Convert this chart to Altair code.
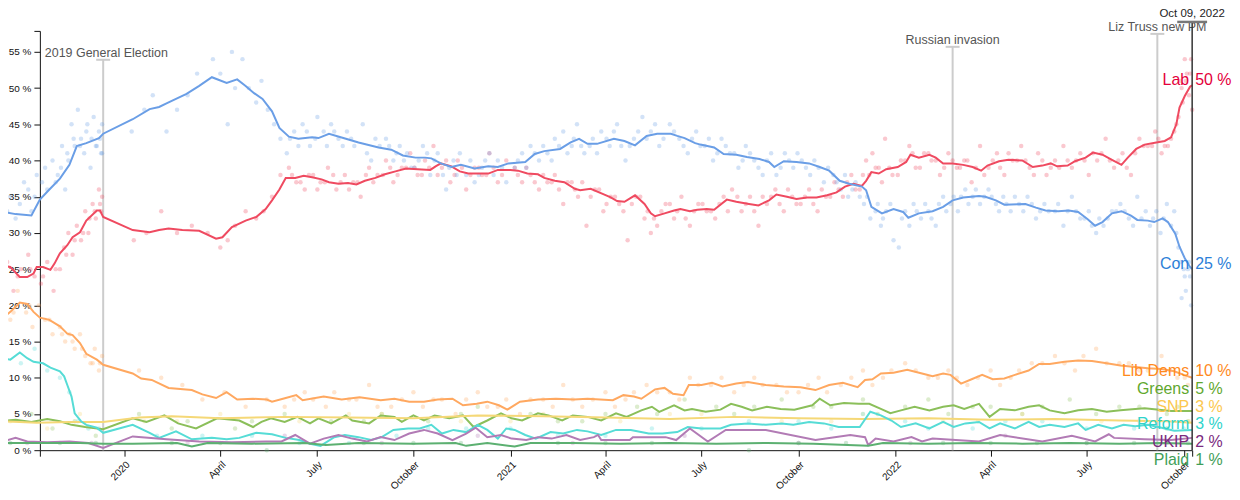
import altair as alt
import pandas as pd

# ---------------- data ----------------
PARTIES = ["Lab", "Con", "Lib Dems", "Greens", "SNP", "Reform", "UKIP", "Plaid"]
LATEST = [50, 25, 10, 5, 3, 3, 2, 1]

CON_LINE = [
    ("2019-09-05", 33.0), ("2019-09-20", 32.6), ("2019-10-05", 32.4), ("2019-10-13", 34.6),
    ("2019-10-22", 36.0), ("2019-11-01", 37.5), ("2019-11-10", 39.4), ("2019-11-17", 42.0),
    ("2019-11-26", 42.4), ("2019-12-08", 43.1), ("2019-12-12", 43.7),
    ("2020-01-09", 45.7), ("2020-01-25", 47.1), ("2020-02-03", 47.4), ("2020-02-10", 47.9),
    ("2020-02-19", 48.5), ("2020-02-29", 49.2), ("2020-03-12", 50.3), ("2020-03-24", 51.5),
    ("2020-04-07", 50.7), ("2020-04-17", 51.2), ("2020-04-25", 50.3), ("2020-05-03", 49.3),
    ("2020-05-11", 48.5), ("2020-05-20", 46.8), ("2020-05-27", 44.5), ("2020-06-05", 43.3),
    ("2020-06-14", 43.0), ("2020-06-27", 43.2), ("2020-07-03", 43.1), ("2020-07-13", 43.7),
    ("2020-07-29", 43.0), ("2020-08-10", 42.5), ("2020-08-29", 41.8), ("2020-09-10", 41.5),
    ("2020-09-21", 40.7), ("2020-10-03", 40.4), ("2020-10-12", 40.4), ("2020-10-18", 40.3),
    ("2020-10-27", 39.6), ("2020-11-06", 39.1), ("2020-11-15", 39.4), ("2020-11-28", 38.9),
    ("2020-12-11", 39.2), ("2020-12-20", 39.1), ("2020-12-30", 39.6),
    ("2021-01-15", 39.8), ("2021-01-24", 40.9), ("2021-02-02", 41.3), ("2021-02-17", 41.6),
    ("2021-02-27", 42.5), ("2021-03-07", 43.0), ("2021-03-15", 42.3), ("2021-03-24", 42.3),
    ("2021-04-09", 43.0), ("2021-04-19", 42.7), ("2021-04-29", 42.1), ("2021-05-10", 43.4),
    ("2021-05-20", 43.7), ("2021-06-02", 43.7), ("2021-06-08", 43.4), ("2021-06-15", 43.1),
    ("2021-06-25", 42.4), ("2021-06-30", 42.2), ("2021-07-13", 41.8), ("2021-07-22", 40.9),
    ("2021-08-03", 40.8), ("2021-08-13", 40.5), ("2021-08-25", 40.2), ("2021-09-03", 39.8),
    ("2021-09-08", 39.1), ("2021-09-17", 39.9), ("2021-09-29", 39.8), ("2021-10-11", 39.6),
    ("2021-10-21", 39.1), ("2021-10-30", 38.6), ("2021-11-09", 37.2), ("2021-11-18", 36.8),
    ("2021-11-30", 36.4), ("2021-12-04", 35.9), ("2021-12-09", 33.6), ("2021-12-19", 32.7),
    ("2021-12-30", 33.3),
    ("2022-01-08", 32.9), ("2022-01-13", 32.1), ("2022-01-23", 32.7), ("2022-02-05", 33.0),
    ("2022-02-15", 33.6), ("2022-02-24", 34.5), ("2022-03-06", 34.9), ("2022-03-21", 35.1),
    ("2022-03-27", 35.0), ("2022-04-06", 34.5), ("2022-04-14", 33.9), ("2022-05-04", 34.0),
    ("2022-05-14", 33.5), ("2022-05-23", 33.1), ("2022-06-04", 33.0), ("2022-06-14", 33.1),
    ("2022-06-23", 32.9), ("2022-07-02", 31.9), ("2022-07-09", 31.0), ("2022-07-16", 31.5),
    ("2022-07-25", 32.7), ("2022-08-03", 33.0), ("2022-08-12", 32.4), ("2022-08-18", 31.8),
    ("2022-08-28", 31.7), ("2022-09-03", 31.5), ("2022-09-11", 32.0), ("2022-09-16", 31.5),
    ("2022-09-23", 29.9), ("2022-09-27", 28.1), ("2022-10-02", 26.5), ("2022-10-07", 25.3),
    ("2022-10-09", 25.0),
]

LAB_LINE = [
    ("2019-09-06", 25.5), ("2019-09-15", 25.3), ("2019-09-24", 23.9), ("2019-10-01", 23.9),
    ("2019-10-07", 24.4), ("2019-10-10", 25.3), ("2019-10-16", 25.3), ("2019-10-23", 24.9),
    ("2019-10-27", 25.8), ("2019-11-01", 27.2), ("2019-11-08", 28.3), ("2019-11-13", 29.4),
    ("2019-11-20", 30.1), ("2019-11-26", 31.7), ("2019-12-06", 33.1), ("2019-12-09", 33.1),
    ("2019-12-12", 32.2),
    ("2020-01-09", 30.4), ("2020-01-25", 30.1), ("2020-02-03", 30.4), ("2020-02-12", 30.6),
    ("2020-02-25", 30.4), ("2020-03-12", 30.3), ("2020-03-28", 29.2), ("2020-04-03", 29.4),
    ("2020-04-12", 30.8), ("2020-04-25", 31.7), ("2020-05-05", 32.2), ("2020-05-14", 33.3),
    ("2020-05-20", 34.5), ("2020-05-27", 36.0), ("2020-06-02", 37.6), ("2020-06-11", 37.6),
    ("2020-06-19", 37.9), ("2020-06-27", 37.7), ("2020-07-06", 37.4), ("2020-07-13", 37.0),
    ("2020-07-22", 36.8), ("2020-07-31", 36.9), ("2020-08-08", 36.7), ("2020-08-16", 37.2),
    ("2020-08-26", 37.6), ("2020-09-04", 38.1), ("2020-09-14", 38.5), ("2020-09-24", 38.9),
    ("2020-10-05", 38.8), ("2020-10-17", 38.7), ("2020-10-22", 39.2), ("2020-10-27", 39.6),
    ("2020-11-06", 39.2), ("2020-11-14", 38.5), ("2020-11-22", 38.2), ("2020-12-01", 38.2),
    ("2020-12-11", 38.2), ("2020-12-20", 38.7),
    ("2021-01-01", 38.7), ("2021-01-08", 38.6), ("2021-01-17", 38.2), ("2021-01-27", 38.1),
    ("2021-02-02", 37.6), ("2021-02-12", 37.2), ("2021-02-21", 37.0), ("2021-03-03", 36.1),
    ("2021-03-08", 35.9), ("2021-03-18", 36.1), ("2021-03-31", 35.3), ("2021-04-06", 34.9),
    ("2021-04-12", 34.4), ("2021-04-19", 34.3), ("2021-04-29", 35.2), ("2021-05-08", 34.0),
    ("2021-05-14", 32.7), ("2021-05-18", 32.3), ("2021-05-27", 32.7), ("2021-06-05", 33.1),
    ("2021-06-11", 33.3), ("2021-06-20", 33.0), ("2021-06-27", 33.2), ("2021-07-06", 33.3),
    ("2021-07-13", 33.2), ("2021-07-18", 33.8), ("2021-07-25", 34.6), ("2021-08-03", 34.3),
    ("2021-08-15", 34.0), ("2021-08-24", 33.8), ("2021-09-03", 34.5), ("2021-09-10", 35.3),
    ("2021-09-20", 35.0), ("2021-09-29", 34.7), ("2021-10-09", 34.9), ("2021-10-18", 34.9),
    ("2021-10-28", 35.2), ("2021-11-06", 35.6), ("2021-11-14", 36.4), ("2021-11-22", 36.8),
    ("2021-11-30", 36.5), ("2021-12-04", 37.2), ("2021-12-09", 38.4), ("2021-12-16", 38.2),
    ("2021-12-23", 38.8),
    ("2022-01-03", 39.1), ("2022-01-11", 39.8), ("2022-01-15", 40.8), ("2022-01-23", 40.4),
    ("2022-02-02", 40.8), ("2022-02-08", 40.4), ("2022-02-15", 39.6), ("2022-02-24", 39.6),
    ("2022-03-06", 39.4), ("2022-03-15", 39.1), ("2022-03-23", 38.6), ("2022-03-29", 39.3),
    ("2022-04-09", 39.9), ("2022-04-18", 40.1), ("2022-05-01", 40.0), ("2022-05-11", 39.1),
    ("2022-05-20", 39.3), ("2022-05-28", 39.6), ("2022-06-03", 39.2), ("2022-06-13", 39.3),
    ("2022-06-20", 39.9), ("2022-06-30", 40.4), ("2022-07-07", 41.1), ("2022-07-16", 40.8),
    ("2022-07-25", 40.1), ("2022-08-03", 39.4), ("2022-08-09", 40.4), ("2022-08-17", 41.6),
    ("2022-08-25", 42.2), ("2022-09-05", 42.5), ("2022-09-13", 42.7), ("2022-09-19", 43.2),
    ("2022-09-24", 45.0), ("2022-09-27", 47.3), ("2022-10-02", 48.9), ("2022-10-07", 50.2),
    ("2022-10-09", 50.4),
]

LD_LINE = [
    ("2019-09-05", 17.9), ("2019-09-15", 19.1), ("2019-09-24", 20.4), ("2019-10-01", 20.2),
    ("2019-10-07", 19.1), ("2019-10-13", 18.3), ("2019-10-22", 18.0), ("2019-11-01", 17.1),
    ("2019-11-08", 16.1), ("2019-11-13", 15.9), ("2019-11-20", 14.8), ("2019-11-26", 13.3),
    ("2019-12-06", 12.5), ("2019-12-12", 11.8),
    ("2020-01-09", 10.6), ("2020-01-17", 9.9), ("2020-01-27", 9.7), ("2020-02-12", 8.6),
    ("2020-03-05", 8.3), ("2020-03-15", 7.7), ("2020-03-28", 7.2), ("2020-04-07", 8.0),
    ("2020-04-17", 7.0), ("2020-05-02", 7.1), ("2020-05-15", 7.0), ("2020-05-20", 6.7),
    ("2020-06-02", 7.2), ("2020-06-12", 7.6), ("2020-06-18", 6.9), ("2020-07-08", 7.4),
    ("2020-07-25", 7.0), ("2020-08-11", 7.3), ("2020-08-31", 6.9), ("2020-09-13", 7.1),
    ("2020-09-27", 6.7), ("2020-10-11", 6.7), ("2020-10-24", 7.0), ("2020-11-07", 7.1),
    ("2020-11-17", 6.2), ("2020-11-30", 6.4), ("2020-12-10", 6.7), ("2020-12-21", 6.2),
    ("2020-12-29", 5.6),
    ("2021-01-10", 6.7), ("2021-01-27", 7.0), ("2021-02-13", 7.1), ("2021-03-02", 7.0),
    ("2021-03-15", 7.1), ("2021-04-08", 6.9), ("2021-04-18", 7.6), ("2021-04-28", 7.4),
    ("2021-05-05", 7.1), ("2021-05-18", 8.4), ("2021-05-27", 8.6), ("2021-06-04", 7.8),
    ("2021-06-14", 7.6), ("2021-06-19", 9.0), ("2021-07-01", 9.0), ("2021-07-11", 9.3),
    ("2021-07-21", 8.8), ("2021-08-03", 9.2), ("2021-08-14", 9.4), ("2021-08-31", 9.0),
    ("2021-09-17", 8.8), ("2021-10-03", 8.7), ("2021-10-17", 8.3), ("2021-10-30", 9.0),
    ("2021-11-12", 9.3), ("2021-11-26", 8.7), ("2021-12-03", 9.7), ("2021-12-10", 9.8),
    ("2021-12-18", 10.6), ("2021-12-30", 10.7),
    ("2022-01-12", 11.1), ("2022-01-26", 10.6), ("2022-02-05", 10.2), ("2022-02-15", 10.6),
    ("2022-02-22", 10.4), ("2022-03-04", 9.2), ("2022-03-14", 9.8), ("2022-03-24", 10.4),
    ("2022-04-03", 9.8), ("2022-04-14", 9.9), ("2022-04-24", 10.4), ("2022-05-07", 11.0),
    ("2022-05-17", 11.9), ("2022-05-27", 11.9), ("2022-06-10", 12.2), ("2022-06-23", 12.4),
    ("2022-07-06", 12.3), ("2022-07-20", 12.0), ("2022-08-02", 11.7), ("2022-08-16", 11.5),
    ("2022-08-28", 11.3), ("2022-09-10", 11.2), ("2022-09-22", 10.9), ("2022-10-01", 10.4),
    ("2022-10-09", 10.0),
]

GREENS_LINE = [
    ("2019-09-05", 4.0), ("2019-09-20", 4.2), ("2019-10-05", 3.9), ("2019-10-20", 4.3),
    ("2019-11-01", 4.0), ("2019-11-12", 3.5), ("2019-11-25", 3.2), ("2019-12-12", 2.9),
    ("2020-01-09", 4.4), ("2020-01-22", 3.9), ("2020-02-08", 4.8), ("2020-02-21", 3.7),
    ("2020-03-09", 3.0), ("2020-03-29", 4.4), ("2020-04-19", 4.1), ("2020-05-02", 3.2),
    ("2020-05-10", 3.9), ("2020-05-19", 4.4), ("2020-06-01", 3.9), ("2020-06-13", 4.6),
    ("2020-06-25", 3.7), ("2020-07-03", 4.4), ("2020-07-15", 3.7), ("2020-07-29", 4.8),
    ("2020-08-04", 4.1), ("2020-08-20", 3.7), ("2020-08-31", 4.8), ("2020-09-13", 4.6),
    ("2020-09-20", 3.9), ("2020-10-01", 4.8), ("2020-10-11", 4.1), ("2020-10-21", 4.8),
    ("2020-11-04", 4.4), ("2020-11-17", 4.8), ("2020-11-27", 3.2), ("2020-12-10", 4.1),
    ("2020-12-23", 5.1),
    ("2021-01-02", 4.4), ("2021-01-12", 4.1), ("2021-01-27", 5.1), ("2021-02-06", 4.8),
    ("2021-02-19", 4.1), ("2021-03-01", 4.8), ("2021-03-15", 4.6), ("2021-03-28", 4.1),
    ("2021-04-11", 5.1), ("2021-04-21", 4.6), ("2021-05-05", 5.5), ("2021-05-15", 6.0),
    ("2021-05-22", 5.3), ("2021-06-05", 6.2), ("2021-06-15", 5.5), ("2021-06-22", 5.7),
    ("2021-07-05", 5.3), ("2021-07-19", 5.6), ("2021-07-29", 6.4), ("2021-08-08", 6.0),
    ("2021-08-18", 5.5), ("2021-09-01", 6.0), ("2021-09-14", 5.7), ("2021-09-27", 5.6),
    ("2021-10-14", 6.2), ("2021-10-21", 7.1), ("2021-10-31", 6.2), ("2021-11-13", 6.5),
    ("2021-11-27", 6.4), ("2021-12-07", 6.4), ("2021-12-18", 5.7), ("2021-12-27", 5.1),
    ("2022-01-06", 5.5), ("2022-01-19", 6.0), ("2022-02-02", 5.5), ("2022-02-15", 6.0),
    ("2022-02-25", 6.2), ("2022-03-07", 5.7), ("2022-03-21", 6.4), ("2022-03-31", 4.6),
    ("2022-04-10", 5.7), ("2022-04-24", 5.5), ("2022-05-07", 6.0), ("2022-05-17", 6.2),
    ("2022-05-27", 5.5), ("2022-06-10", 5.1), ("2022-06-23", 5.5), ("2022-07-06", 5.7),
    ("2022-07-20", 5.3), ("2022-08-02", 5.5), ("2022-08-16", 5.7), ("2022-08-25", 5.8),
    ("2022-09-19", 5.4), ("2022-10-09", 5.4),
]

SNP_LINE = [
    ("2019-09-05", 4.0), ("2019-10-10", 3.8), ("2019-11-10", 3.9), ("2019-12-12", 3.9),
    ("2020-01-15", 4.5), ("2020-02-15", 4.7), ("2020-04-01", 4.4), ("2020-06-01", 4.6),
    ("2020-08-01", 4.5), ("2020-10-01", 4.4), ("2020-12-01", 4.8), ("2021-02-01", 4.7),
    ("2021-04-01", 4.5), ("2021-06-01", 4.3), ("2021-08-01", 4.6), ("2021-10-01", 4.4),
    ("2021-12-01", 4.3), ("2022-02-01", 4.4), ("2022-04-01", 4.2), ("2022-06-01", 4.3),
    ("2022-08-01", 4.1), ("2022-09-15", 4.0), ("2022-10-09", 3.8),
]

REFORM_LINE = [
    ("2019-09-06", 12.7), ("2019-09-15", 12.5), ("2019-09-24", 13.5), ("2019-10-01", 12.7),
    ("2019-10-07", 12.2), ("2019-10-16", 12.0), ("2019-10-23", 11.4), ("2019-11-01", 10.9),
    ("2019-11-05", 10.2), ("2019-11-08", 9.0), ("2019-11-12", 7.4), ("2019-11-15", 5.1),
    ("2019-11-21", 4.0), ("2019-11-26", 3.5), ("2019-12-06", 3.1), ("2019-12-12", 2.4),
    ("2020-01-09", 3.5), ("2020-01-25", 2.4), ("2020-02-03", 1.7), ("2020-02-19", 2.6),
    ("2020-03-05", 1.5), ("2020-03-24", 1.7), ("2020-04-07", 1.5), ("2020-04-19", 1.7),
    ("2020-05-05", 2.4), ("2020-05-20", 2.2), ("2020-06-02", 1.7), ("2020-06-15", 1.4),
    ("2020-06-25", 0.9), ("2020-07-05", 0.6), ("2020-07-18", 1.8), ("2020-07-28", 2.1),
    ("2020-08-10", 1.8), ("2020-08-22", 1.4), ("2020-09-01", 1.8), ("2020-09-12", 2.8),
    ("2020-09-26", 3.0), ("2020-10-07", 3.0), ("2020-10-18", 3.5), ("2020-10-28", 2.3),
    ("2020-11-08", 2.8), ("2020-11-20", 2.5), ("2020-12-01", 3.5), ("2020-12-10", 2.8),
    ("2020-12-20", 1.6), ("2020-12-28", 3.0),
    ("2021-01-05", 2.8), ("2021-01-15", 2.1), ("2021-01-25", 1.6), ("2021-02-08", 2.5),
    ("2021-02-20", 2.3), ("2021-03-05", 2.8), ("2021-03-15", 2.6), ("2021-03-28", 2.1),
    ("2021-04-11", 2.8), ("2021-04-25", 2.8), ("2021-05-12", 2.3), ("2021-05-25", 2.3),
    ("2021-06-08", 2.5), ("2021-06-18", 3.2), ("2021-07-01", 3.0), ("2021-07-19", 3.0),
    ("2021-07-29", 3.5), ("2021-08-14", 3.7), ("2021-08-31", 3.5), ("2021-09-15", 3.7),
    ("2021-09-26", 3.5), ("2021-10-11", 3.9), ("2021-10-25", 3.7), ("2021-11-08", 3.2),
    ("2021-11-28", 3.2), ("2021-12-08", 5.3), ("2021-12-18", 4.8), ("2021-12-28", 4.1),
    ("2022-01-06", 3.2), ("2022-01-20", 3.7), ("2022-02-02", 3.0), ("2022-02-15", 3.9),
    ("2022-02-25", 3.2), ("2022-03-08", 3.7), ("2022-03-21", 3.9), ("2022-03-31", 3.0),
    ("2022-04-10", 3.7), ("2022-04-24", 3.0), ("2022-05-07", 3.9), ("2022-05-17", 3.2),
    ("2022-05-27", 3.5), ("2022-06-10", 3.2), ("2022-06-23", 3.7), ("2022-06-30", 2.8),
    ("2022-07-12", 3.5), ("2022-07-25", 3.0), ("2022-08-05", 3.5), ("2022-08-16", 3.3),
    ("2022-08-28", 3.5), ("2022-09-10", 3.1), ("2022-09-22", 2.7), ("2022-10-09", 2.8),
]

UKIP_LINE = [
    ("2019-09-05", 1.1), ("2019-09-20", 1.7), ("2019-10-01", 1.2), ("2019-10-20", 1.1),
    ("2019-11-10", 1.2), ("2019-11-28", 1.0), ("2019-12-12", 0.3),
    ("2020-01-09", 1.9), ("2020-02-10", 1.5), ("2020-03-12", 1.2), ("2020-04-12", 1.1),
    ("2020-05-14", 1.2), ("2020-05-29", 1.2), ("2020-06-11", 2.1), ("2020-06-25", 0.9),
    ("2020-07-08", 1.6), ("2020-07-22", 2.1), ("2020-08-04", 1.6), ("2020-08-18", 1.2),
    ("2020-08-31", 1.8), ("2020-09-13", 1.4), ("2020-09-27", 2.3), ("2020-10-11", 2.8),
    ("2020-10-24", 2.3), ("2020-11-07", 1.4), ("2020-11-20", 2.3), ("2020-11-29", 3.1),
    ("2020-12-10", 1.8), ("2020-12-23", 2.1),
    ("2021-01-02", 1.6), ("2021-01-16", 1.4), ("2021-01-27", 1.8), ("2021-02-09", 1.6),
    ("2021-02-23", 2.1), ("2021-03-08", 1.4), ("2021-03-21", 1.8), ("2021-03-25", 2.1),
    ("2021-03-28", 1.4), ("2021-04-24", 1.4), ("2021-04-27", 1.8), ("2021-05-28", 1.8),
    ("2021-06-07", 1.4), ("2021-06-20", 3.0), ("2021-07-07", 1.2), ("2021-07-24", 2.8),
    ("2021-08-31", 2.8), ("2021-10-17", 1.4), ("2021-11-19", 2.1), ("2021-12-03", 1.8),
    ("2021-12-06", 0.7), ("2021-12-13", 1.6), ("2021-12-30", 1.2),
    ("2022-01-16", 1.8), ("2022-01-26", 1.2), ("2022-02-05", 1.6), ("2022-03-21", 1.2),
    ("2022-04-10", 2.1), ("2022-05-20", 1.2), ("2022-06-17", 2.0), ("2022-07-09", 1.2),
    ("2022-07-22", 2.2), ("2022-07-27", 1.7), ("2022-08-25", 1.5), ("2022-09-19", 1.4),
    ("2022-10-09", 1.7),
]

PLAID_LINE = [
    ("2019-09-05", 1.0), ("2019-10-15", 1.0), ("2019-11-20", 1.0), ("2019-12-12", 0.9),
    ("2020-01-09", 0.9), ("2020-02-20", 1.0), ("2020-03-05", 0.5), ("2020-03-20", 1.0),
    ("2020-05-01", 0.9), ("2020-06-20", 1.0), ("2020-07-10", 0.7), ("2020-08-10", 1.0),
    ("2020-10-01", 0.9), ("2020-11-10", 1.0), ("2020-11-20", 0.6), ("2020-12-10", 1.0),
    ("2021-01-05", 0.5), ("2021-01-20", 1.0), ("2021-03-01", 1.0), ("2021-04-15", 0.9),
    ("2021-06-01", 1.0), ("2021-07-15", 0.9), ("2021-09-01", 1.0), ("2021-10-15", 0.9),
    ("2021-12-06", 0.6), ("2021-12-20", 1.0), ("2022-02-01", 0.9), ("2022-03-15", 1.0),
    ("2022-05-01", 0.9), ("2022-06-15", 1.0), ("2022-08-01", 0.9), ("2022-09-10", 1.0),
    ("2022-10-09", 0.9),
]

CON_POLLS = [
    ("2019-09-08", 31), ("2019-09-15", 35), ("2019-09-20", 32), ("2019-09-28", 37), ("2019-10-05", 33),
    ("2019-10-10", 38), ("2019-10-15", 37), ("2019-10-20", 36), ("2019-10-25", 40), ("2019-10-30", 38),
    ("2019-11-03", 42), ("2019-11-06", 36), ("2019-11-09", 40), ("2019-11-12", 45), ("2019-11-15", 42),
    ("2019-11-18", 47), ("2019-11-21", 43), ("2019-11-24", 41), ("2019-11-27", 45), ("2019-11-30", 39),
    ("2019-12-03", 46), ("2019-12-05", 42), ("2019-12-08", 44), ("2019-12-10", 41), ("2019-12-11", 45),
    ("2019-09-12", 33), ("2019-09-24", 34), ("2019-10-02", 36), ("2019-10-08", 35), ("2019-10-18", 39),
    ("2019-10-28", 37), ("2019-11-02", 39), ("2019-11-08", 41), ("2019-11-14", 43), ("2019-11-20", 42),
    ("2019-11-26", 44), ("2019-12-01", 43), ("2019-12-06", 42), ("2019-12-09", 43), ("2019-12-11", 41),
    ("2020-01-08", 44), ("2020-01-20", 47), ("2020-01-28", 49), ("2020-02-10", 44), ("2020-02-20", 47),
    ("2020-03-01", 49), ("2020-03-10", 52), ("2020-03-25", 54), ("2020-04-01", 52), ("2020-04-08", 45),
    ("2020-04-12", 55), ("2020-04-15", 50), ("2020-04-22", 54), ("2020-04-28", 50), ("2020-05-05", 48),
    ("2020-05-10", 51), ("2020-05-16", 47), ("2020-05-22", 45), ("2020-05-28", 43), ("2020-06-03", 41),
    ("2020-06-10", 44), ("2020-06-18", 45), ("2020-06-25", 42), ("2020-07-02", 46), ("2020-07-08", 44),
    ("2020-07-15", 45), ("2020-07-22", 43), ("2020-07-30", 44), ("2020-08-06", 42), ("2020-08-14", 45),
    ("2020-08-22", 40), ("2020-08-30", 42), ("2020-09-05", 43), ("2020-09-12", 40), ("2020-09-18", 42),
    ("2020-09-25", 41), ("2020-10-02", 39), ("2020-10-10", 42), ("2020-10-17", 38), ("2020-10-24", 41),
    ("2020-11-01", 36), ("2020-11-08", 40), ("2020-11-14", 41), ("2020-11-20", 38), ("2020-11-28", 37),
    ("2020-12-05", 39), ("2020-12-12", 41), ("2020-12-20", 40), ("2020-12-28", 37),
    ("2020-06-06", 43), ("2020-06-14", 42), ("2020-06-22", 44), ("2020-06-30", 43), ("2020-07-11", 42),
    ("2020-07-18", 44), ("2020-07-26", 42), ("2020-08-03", 43), ("2020-08-18", 41), ("2020-08-26", 43),
    ("2020-09-08", 42), ("2020-09-15", 41), ("2020-09-22", 40), ("2020-09-29", 39), ("2020-10-06", 40),
    ("2020-10-14", 41), ("2020-10-21", 40), ("2020-10-29", 38), ("2020-11-04", 39), ("2020-11-11", 38),
    ("2020-11-24", 40), ("2020-12-02", 38), ("2020-12-08", 40), ("2020-12-16", 38), ("2020-12-24", 39),
    ("2021-01-05", 39), ("2021-01-12", 41), ("2021-01-20", 42), ("2021-01-28", 40), ("2021-02-05", 41),
    ("2021-02-12", 43), ("2021-02-20", 44), ("2021-02-28", 42), ("2021-03-05", 45), ("2021-03-12", 41),
    ("2021-03-20", 43), ("2021-03-28", 44), ("2021-04-05", 42), ("2021-04-12", 45), ("2021-04-20", 40),
    ("2021-04-28", 43), ("2021-05-06", 46), ("2021-05-14", 44), ("2021-05-22", 42), ("2021-06-01", 45),
    ("2021-06-10", 43), ("2021-06-18", 41), ("2021-06-26", 44), ("2021-07-04", 42), ("2021-07-12", 40),
    ("2021-07-20", 43), ("2021-07-28", 41), ("2021-08-05", 39), ("2021-08-12", 42), ("2021-08-20", 40),
    ("2021-08-28", 38), ("2021-09-05", 41), ("2021-09-14", 39), ("2021-09-22", 40), ("2021-09-30", 41),
    ("2021-10-08", 39), ("2021-10-16", 40), ("2021-10-25", 37), ("2021-11-03", 38), ("2021-11-10", 36),
    ("2021-11-17", 35), ("2021-11-24", 37), ("2021-12-02", 34), ("2021-12-08", 32), ("2021-12-13", 33),
    ("2021-12-18", 31), ("2021-12-23", 33), ("2021-12-30", 29),
    ("2021-01-08", 40), ("2021-01-16", 39), ("2021-01-24", 41), ("2021-02-01", 42), ("2021-02-09", 40),
    ("2021-02-16", 42), ("2021-02-24", 41), ("2021-03-02", 43), ("2021-03-09", 42), ("2021-03-17", 42),
    ("2021-03-24", 41), ("2021-04-02", 43), ("2021-04-09", 44), ("2021-04-16", 42), ("2021-04-24", 42),
    ("2021-05-02", 44), ("2021-05-10", 43), ("2021-05-18", 45), ("2021-05-26", 43), ("2021-06-05", 44),
    ("2021-06-14", 42), ("2021-06-22", 43), ("2021-06-30", 42), ("2021-07-08", 43), ("2021-07-16", 41),
    ("2021-07-24", 42), ("2021-08-01", 41), ("2021-08-09", 40), ("2021-08-16", 41), ("2021-08-24", 39),
    ("2021-09-01", 40), ("2021-09-10", 38), ("2021-09-18", 41), ("2021-09-26", 39), ("2021-10-04", 40),
    ("2021-10-12", 38), ("2021-10-20", 39), ("2021-10-29", 39), ("2021-11-06", 37), ("2021-11-14", 38),
    ("2021-11-21", 36), ("2021-11-28", 35), ("2021-12-05", 35), ("2021-12-15", 34), ("2021-12-20", 32),
    ("2021-12-27", 34),
    ("2022-01-04", 28), ("2022-01-10", 33), ("2022-01-18", 34), ("2022-01-25", 32), ("2022-02-01", 33),
    ("2022-02-08", 31), ("2022-02-15", 35), ("2022-02-22", 34), ("2022-03-01", 33), ("2022-03-08", 36),
    ("2022-03-15", 35), ("2022-03-22", 34), ("2022-03-30", 36), ("2022-04-06", 34), ("2022-04-13", 35),
    ("2022-04-20", 33), ("2022-04-28", 34), ("2022-05-06", 35), ("2022-05-14", 32), ("2022-05-22", 34),
    ("2022-06-01", 33), ("2022-06-09", 31), ("2022-06-17", 35), ("2022-06-25", 32), ("2022-07-03", 33),
    ("2022-07-10", 30), ("2022-07-17", 31), ("2022-07-25", 33), ("2022-08-02", 34), ("2022-08-10", 32),
    ("2022-08-18", 35), ("2022-08-26", 33), ("2022-09-02", 32), ("2022-09-09", 30), ("2022-09-15", 34),
    ("2022-09-22", 33), ("2022-09-26", 28), ("2022-09-29", 21), ("2022-10-01", 25), ("2022-10-03", 22),
    ("2022-10-05", 25), ("2022-10-07", 24), ("2022-10-08", 20),
    ("2022-01-07", 32), ("2022-01-14", 31), ("2022-01-21", 33), ("2022-01-29", 34), ("2022-02-04", 32),
    ("2022-02-11", 34), ("2022-02-18", 33), ("2022-02-25", 35), ("2022-03-04", 35), ("2022-03-11", 34),
    ("2022-03-18", 36), ("2022-03-26", 35), ("2022-04-02", 35), ("2022-04-09", 33), ("2022-04-16", 34),
    ("2022-04-24", 35), ("2022-05-02", 33), ("2022-05-10", 34), ("2022-05-18", 33), ("2022-05-26", 33),
    ("2022-06-04", 34), ("2022-06-13", 33), ("2022-06-21", 33), ("2022-06-29", 32), ("2022-07-06", 31),
    ("2022-07-13", 32), ("2022-07-21", 32), ("2022-07-29", 33), ("2022-08-06", 33), ("2022-08-14", 31),
    ("2022-08-22", 32), ("2022-08-30", 31), ("2022-09-05", 33), ("2022-09-12", 32), ("2022-09-19", 31),
    ("2022-09-24", 30), ("2022-09-28", 26), ("2022-10-02", 24), ("2022-10-06", 26),
]

LAB_POLLS = [
    ("2019-09-06", 24), ("2019-09-12", 26), ("2019-09-18", 22), ("2019-09-25", 25), ("2019-10-02", 27),
    ("2019-10-08", 24), ("2019-10-14", 23), ("2019-10-20", 26), ("2019-10-26", 22), ("2019-11-01", 25),
    ("2019-11-05", 28), ("2019-11-09", 30), ("2019-11-13", 27), ("2019-11-17", 31), ("2019-11-21", 29),
    ("2019-11-25", 33), ("2019-11-28", 30), ("2019-12-02", 34), ("2019-12-05", 32), ("2019-12-08", 36),
    ("2019-12-10", 33), ("2019-12-11", 35),
    ("2019-09-10", 25), ("2019-09-22", 24), ("2019-10-04", 25), ("2019-10-16", 24), ("2019-10-28", 25),
    ("2019-11-07", 27), ("2019-11-15", 29), ("2019-11-23", 30), ("2019-11-29", 32), ("2019-12-04", 33),
    ("2019-12-09", 34),
    ("2020-01-10", 29), ("2020-01-22", 30), ("2020-02-05", 33), ("2020-02-20", 30), ("2020-03-05", 31),
    ("2020-03-20", 30), ("2020-04-01", 28), ("2020-04-08", 29), ("2020-04-15", 31), ("2020-04-25", 33),
    ("2020-05-05", 32), ("2020-05-12", 33), ("2020-05-20", 35), ("2020-05-28", 38), ("2020-06-05", 39),
    ("2020-06-12", 37), ("2020-06-20", 36), ("2020-06-28", 38), ("2020-07-05", 37), ("2020-07-12", 39),
    ("2020-07-20", 36), ("2020-07-28", 38), ("2020-08-05", 37), ("2020-08-12", 35), ("2020-08-20", 39),
    ("2020-08-28", 38), ("2020-09-05", 40), ("2020-09-12", 37), ("2020-09-20", 39), ("2020-09-28", 41),
    ("2020-10-05", 38), ("2020-10-12", 40), ("2020-10-20", 42), ("2020-10-28", 39), ("2020-11-05", 37),
    ("2020-11-12", 40), ("2020-11-20", 36), ("2020-11-28", 39), ("2020-12-05", 38), ("2020-12-12", 41),
    ("2020-12-20", 37), ("2020-12-28", 40),
    ("2020-06-08", 38), ("2020-06-16", 37), ("2020-06-24", 38), ("2020-07-02", 36), ("2020-07-09", 37),
    ("2020-07-17", 38), ("2020-07-24", 37), ("2020-08-01", 36), ("2020-08-09", 37), ("2020-08-17", 38),
    ("2020-08-24", 37), ("2020-09-02", 38), ("2020-09-09", 39), ("2020-09-16", 38), ("2020-09-24", 39),
    ("2020-10-02", 39), ("2020-10-09", 38), ("2020-10-16", 39), ("2020-10-24", 38), ("2020-11-01", 40),
    ("2020-11-09", 38), ("2020-11-16", 39), ("2020-11-24", 38), ("2020-12-02", 39), ("2020-12-09", 38),
    ("2020-12-16", 39), ("2020-12-24", 38),
    ("2021-01-05", 39), ("2021-01-12", 37), ("2021-01-20", 38), ("2021-01-28", 36), ("2021-02-05", 37),
    ("2021-02-12", 38), ("2021-02-20", 34), ("2021-02-28", 37), ("2021-03-06", 35), ("2021-03-14", 31),
    ("2021-03-22", 36), ("2021-03-30", 33), ("2021-04-06", 35), ("2021-04-14", 34), ("2021-04-22", 29),
    ("2021-04-30", 35), ("2021-05-08", 32), ("2021-05-14", 30), ("2021-05-20", 31), ("2021-05-28", 34),
    ("2021-06-05", 32), ("2021-06-12", 35), ("2021-06-20", 31), ("2021-06-28", 34), ("2021-07-06", 33),
    ("2021-07-14", 32), ("2021-07-22", 35), ("2021-07-30", 36), ("2021-08-08", 33), ("2021-08-16", 35),
    ("2021-08-24", 31), ("2021-09-01", 34), ("2021-09-09", 36), ("2021-09-17", 33), ("2021-09-25", 35),
    ("2021-10-03", 34), ("2021-10-11", 36), ("2021-10-19", 33), ("2021-10-27", 35), ("2021-11-04", 37),
    ("2021-11-12", 35), ("2021-11-20", 38), ("2021-11-28", 36), ("2021-12-04", 40), ("2021-12-10", 41),
    ("2021-12-16", 39), ("2021-12-22", 43), ("2021-12-29", 38),
    ("2021-01-08", 38), ("2021-01-16", 39), ("2021-01-24", 37), ("2021-02-01", 38), ("2021-02-09", 37),
    ("2021-02-16", 36), ("2021-02-24", 37), ("2021-03-03", 36), ("2021-03-10", 37), ("2021-03-18", 35),
    ("2021-03-26", 36), ("2021-04-02", 34), ("2021-04-10", 35), ("2021-04-18", 33), ("2021-04-26", 34),
    ("2021-05-04", 35), ("2021-05-11", 33), ("2021-05-17", 32), ("2021-05-24", 33), ("2021-06-01", 34),
    ("2021-06-08", 33), ("2021-06-16", 32), ("2021-06-24", 33), ("2021-07-02", 34), ("2021-07-10", 33),
    ("2021-07-18", 34), ("2021-07-26", 33), ("2021-08-04", 35), ("2021-08-12", 34), ("2021-08-20", 33),
    ("2021-08-28", 35), ("2021-09-05", 35), ("2021-09-13", 34), ("2021-09-21", 36), ("2021-09-29", 34),
    ("2021-10-07", 35), ("2021-10-15", 34), ("2021-10-23", 36), ("2021-10-31", 35), ("2021-11-08", 36),
    ("2021-11-16", 37), ("2021-11-24", 36), ("2021-12-01", 38), ("2021-12-07", 38), ("2021-12-13", 39),
    ("2021-12-19", 37), ("2021-12-26", 39),
    ("2022-01-06", 40), ("2022-01-14", 42), ("2022-01-20", 39), ("2022-01-28", 41), ("2022-02-04", 40),
    ("2022-02-12", 38), ("2022-02-20", 41), ("2022-02-28", 39), ("2022-03-07", 40), ("2022-03-14", 37),
    ("2022-03-22", 42), ("2022-03-30", 39), ("2022-04-07", 41), ("2022-04-14", 38), ("2022-04-22", 40),
    ("2022-04-30", 42), ("2022-05-08", 39), ("2022-05-16", 41), ("2022-05-24", 38), ("2022-06-01", 40),
    ("2022-06-09", 42), ("2022-06-17", 39), ("2022-06-25", 41), ("2022-07-03", 38), ("2022-07-11", 40),
    ("2022-07-19", 43), ("2022-07-27", 39), ("2022-08-04", 41), ("2022-08-12", 38), ("2022-08-20", 43),
    ("2022-08-28", 42), ("2022-09-04", 44), ("2022-09-10", 41), ("2022-09-16", 42), ("2022-09-22", 44),
    ("2022-09-26", 46), ("2022-09-28", 51), ("2022-09-30", 48), ("2022-10-02", 54), ("2022-10-04", 52),
    ("2022-10-06", 49), ("2022-10-08", 54), ("2022-10-09", 47),
    ("2022-01-03", 38), ("2022-01-10", 40), ("2022-01-17", 41), ("2022-01-24", 39), ("2022-02-01", 41),
    ("2022-02-08", 40), ("2022-02-16", 39), ("2022-02-24", 40), ("2022-03-03", 39), ("2022-03-10", 40),
    ("2022-03-18", 39), ("2022-03-26", 38), ("2022-04-03", 40), ("2022-04-10", 39), ("2022-04-18", 41),
    ("2022-04-26", 40), ("2022-05-04", 40), ("2022-05-12", 38), ("2022-05-20", 40), ("2022-05-28", 39),
    ("2022-06-05", 39), ("2022-06-13", 40), ("2022-06-21", 40), ("2022-06-29", 40), ("2022-07-07", 41),
    ("2022-07-15", 41), ("2022-07-23", 40), ("2022-07-31", 40), ("2022-08-08", 39), ("2022-08-16", 41),
    ("2022-08-24", 42), ("2022-09-01", 42), ("2022-09-07", 43), ("2022-09-13", 42), ("2022-09-19", 43),
    ("2022-09-24", 45), ("2022-09-29", 50), ("2022-10-03", 51), ("2022-10-07", 52),
]

LD_POLLS = [
    ("2019-09-08", 20), ("2019-09-15", 18), ("2019-09-22", 22), ("2019-09-30", 19), ("2019-10-06", 17),
    ("2019-10-12", 20), ("2019-10-18", 18), ("2019-10-25", 16), ("2019-11-01", 17), ("2019-11-06", 15),
    ("2019-11-10", 16), ("2019-11-15", 14), ("2019-11-20", 16), ("2019-11-25", 13), ("2019-11-30", 12),
    ("2019-12-04", 14), ("2019-12-08", 11), ("2019-12-11", 13),
    ("2019-09-18", 19), ("2019-10-03", 20), ("2019-10-22", 18), ("2019-11-03", 16), ("2019-11-13", 15),
    ("2019-11-22", 14), ("2019-12-02", 12), ("2019-12-09", 12),
    ("2020-01-15", 11), ("2020-02-05", 10), ("2020-02-25", 9), ("2020-03-15", 7), ("2020-04-05", 8),
    ("2020-04-25", 6), ("2020-05-15", 7), ("2020-06-01", 6), ("2020-06-20", 8), ("2020-07-10", 6),
    ("2020-08-01", 7), ("2020-08-20", 9), ("2020-09-10", 6), ("2020-10-01", 8), ("2020-10-20", 7),
    ("2020-11-10", 5), ("2020-12-01", 8), ("2020-12-20", 6), ("2021-01-10", 5), ("2021-02-01", 7),
    ("2021-02-20", 9), ("2021-03-10", 6), ("2021-04-01", 8), ("2021-04-20", 7), ("2021-05-10", 9),
    ("2021-06-01", 8), ("2021-06-20", 10), ("2021-07-10", 9), ("2021-08-01", 8), ("2021-08-20", 10),
    ("2021-09-10", 9), ("2021-10-01", 8), ("2021-10-20", 10), ("2021-11-10", 9), ("2021-12-01", 11),
    ("2021-12-20", 10), ("2022-01-10", 12), ("2022-02-01", 10), ("2022-02-20", 11), ("2022-03-10", 9),
    ("2022-04-01", 11), ("2022-04-20", 10), ("2022-05-10", 12), ("2022-06-01", 13), ("2022-06-20", 11),
    ("2022-07-10", 14), ("2022-08-01", 12), ("2022-08-20", 11), ("2022-09-10", 13), ("2022-09-25", 10),
    ("2022-10-05", 9),
    ("2020-06-10", 7), ("2020-06-28", 7), ("2020-07-18", 8), ("2020-08-08", 7), ("2020-08-28", 6),
    ("2020-09-20", 7), ("2020-10-10", 6), ("2020-10-28", 7), ("2020-11-20", 7), ("2020-12-10", 6),
    ("2020-12-28", 7), ("2021-01-20", 7), ("2021-02-10", 6), ("2021-03-01", 7), ("2021-03-20", 7),
    ("2021-04-10", 6), ("2021-04-28", 8), ("2021-05-20", 8), ("2021-06-10", 7), ("2021-06-28", 9),
    ("2021-07-20", 10), ("2021-08-10", 9), ("2021-08-28", 9), ("2021-09-20", 8), ("2021-10-10", 9),
    ("2021-10-28", 8), ("2021-11-20", 10), ("2021-12-10", 9), ("2021-12-28", 11), ("2022-01-20", 11),
    ("2022-02-10", 10), ("2022-02-28", 10), ("2022-03-20", 10), ("2022-04-10", 9), ("2022-04-28", 11),
    ("2022-05-20", 12), ("2022-06-10", 12), ("2022-06-28", 13), ("2022-07-20", 12), ("2022-08-10", 12),
    ("2022-08-28", 11), ("2022-09-18", 11), ("2022-10-02", 10),
]

GREENS_POLLS = [
    ("2019-09-10", 4), ("2019-10-05", 5), ("2019-10-25", 3), ("2019-11-15", 4), ("2019-12-05", 2),
    ("2020-01-15", 5), ("2020-03-01", 4), ("2020-04-15", 3), ("2020-06-01", 5), ("2020-07-15", 4),
    ("2020-09-01", 5), ("2020-10-15", 4), ("2020-12-01", 6), ("2021-01-20", 5), ("2021-03-10", 4),
    ("2021-05-01", 6), ("2021-06-15", 7), ("2021-08-01", 5), ("2021-09-15", 7), ("2021-11-01", 6),
    ("2021-12-15", 5), ("2022-02-01", 7), ("2022-03-15", 6), ("2022-05-01", 5), ("2022-06-15", 7),
    ("2022-08-01", 6), ("2022-09-15", 5), ("2022-10-05", 4),
    ("2020-02-15", 3), ("2020-05-01", 4), ("2020-08-15", 4), ("2020-11-15", 5), ("2021-02-15", 4),
    ("2021-04-01", 5), ("2021-05-20", 5), ("2021-07-15", 6), ("2021-08-20", 6), ("2021-10-15", 6),
    ("2021-12-01", 7), ("2022-01-10", 6), ("2022-02-20", 5), ("2022-04-01", 6), ("2022-05-20", 6),
    ("2022-07-10", 5), ("2022-08-20", 6), ("2022-09-25", 6),
]

SNP_POLLS = [
    ("2019-09-15", 4), ("2019-10-20", 3), ("2019-11-20", 5), ("2020-01-20", 4), ("2020-04-01", 5),
    ("2020-06-15", 4), ("2020-09-01", 5), ("2020-11-15", 4), ("2021-02-01", 5), ("2021-04-15", 4),
    ("2021-07-01", 5), ("2021-09-15", 4), ("2021-12-01", 5), ("2022-02-15", 4), ("2022-05-01", 5),
    ("2022-07-15", 4), ("2022-09-15", 3), ("2022-10-06", 4),
    ("2020-02-20", 4), ("2020-08-01", 5), ("2021-01-01", 4), ("2021-06-01", 5), ("2021-11-01", 4),
    ("2022-03-20", 4), ("2022-08-20", 4),
]

REFORM_POLLS = [
    ("2019-09-10", 13), ("2019-09-25", 12), ("2019-10-08", 14), ("2019-10-20", 11), ("2019-11-01", 10),
    ("2019-11-10", 8), ("2019-11-18", 4), ("2019-11-28", 3), ("2019-12-08", 3), ("2020-02-01", 2),
    ("2020-05-01", 2), ("2020-08-01", 1), ("2020-10-15", 3), ("2021-01-01", 3), ("2021-04-01", 2),
    ("2021-07-01", 3), ("2021-10-01", 4), ("2021-12-01", 5), ("2022-02-01", 3), ("2022-04-15", 4),
    ("2022-07-01", 3), ("2022-09-15", 3),
    ("2020-03-15", 2), ("2020-06-15", 1), ("2020-09-15", 2), ("2020-11-20", 3), ("2021-02-15", 2),
    ("2021-05-15", 3), ("2021-08-15", 4), ("2021-11-01", 3), ("2022-01-10", 4), ("2022-03-15", 3),
    ("2022-05-20", 4), ("2022-08-15", 3), ("2022-10-01", 3),
]

UKIP_POLLS = [
    ("2019-10-01", 1), ("2019-12-01", 1), ("2020-03-01", 1), ("2020-06-01", 2), ("2020-09-01", 1),
    ("2020-12-01", 2), ("2021-03-01", 1), ("2021-06-15", 2), ("2021-10-01", 1), ("2022-01-15", 1),
    ("2022-04-15", 2), ("2022-07-01", 1), ("2022-09-15", 1),
]

PLAID_POLLS = [
    ("2019-09-15", 1), ("2019-11-01", 1), ("2019-12-05", 1), ("2020-02-15", 1), ("2020-05-15", 0),
    ("2020-08-15", 1), ("2020-11-15", 1), ("2021-02-15", 1), ("2021-05-15", 1), ("2021-08-15", 0),
    ("2021-11-15", 1), ("2022-02-15", 1), ("2022-05-15", 1), ("2022-08-15", 1), ("2022-10-05", 1),
    ("2020-04-01", 1), ("2020-10-01", 1), ("2021-04-01", 1), ("2021-10-01", 1), ("2022-04-01", 1),
    ("2022-07-01", 1),
]

EVENT_NAMES = ["2019 General Election", "Russian invasion", "Liz Truss new PM"]
EVENT_DATES = ["2019-12-12", "2022-02-24", "2022-09-06"]
TODAY_DATE = "2022-10-09"
TODAY_LABEL = "Oct 09, 2022"
START_DATE = "2019-10-13"
TICK_DATES = ["2020-01-01", "2020-04-01", "2020-07-01", "2020-10-01", "2021-01-01",
              "2021-04-01", "2021-07-01", "2021-10-01", "2022-01-01", "2022-04-01",
              "2022-07-01", "2022-10-01"]
Y_TICKS = [0, 5, 10, 15, 20, 25, 30, 35, 40, 45, 50, 55]

# ---------------- style ----------------
LINE_COLORS = ["#ef4a60", "#6a9ee6", "#ffa860", "#8bbf5a", "#f5d877", "#56dcd6", "#b27bb5", "#5cb071"]
LABEL_COLORS = ["#e4003b", "#2d7fd8", "#ff8a1c", "#5fa82e", "#fcc850", "#2fd3cb", "#7a2a7e", "#3f9e57"]
PLOT_W, PLOT_H = 1157, 421
Y_MAX = 57.9
FONT = "Liberation Sans, Arial, sans-serif"
EVENT_TOP, EVENT_STEP = 29, 13

LINES = [LAB_LINE, CON_LINE, LD_LINE, GREENS_LINE, SNP_LINE, REFORM_LINE, UKIP_LINE, PLAID_LINE]
POLLS = [LAB_POLLS, CON_POLLS, LD_POLLS, GREENS_POLLS, SNP_POLLS, REFORM_POLLS, UKIP_POLLS, PLAID_POLLS]


def dt(s):
    y, m, d = (int(p) for p in s.split("-"))
    return alt.DateTime(year=y, month=m, date=d, utc=True)


line_df = pd.DataFrame(
    [{"party": p, "date": d, "value": v} for p, ser in zip(PARTIES, LINES) for d, v in ser]
)
poll_df = pd.DataFrame(
    [{"party": p, "date": d, "value": v} for p, ser in zip(PARTIES, POLLS) for d, v in ser]
)


def dodge(vals, gap):
    order = sorted(range(len(vals)), key=lambda i: -vals[i])
    clusters = [[i] for i in order]

    def pos(cl):
        m = sum(vals[i] for i in cl) / len(cl)
        n = len(cl)
        return [m + gap * ((n - 1) / 2 - k) for k in range(n)]

    changed = True
    while changed:
        changed = False
        for j in range(len(clusters) - 1):
            if pos(clusters[j])[-1] - pos(clusters[j + 1])[0] < gap:
                clusters[j] = clusters[j] + clusters[j + 1]
                del clusters[j + 1]
                changed = True
                break
    out = [0.0] * len(vals)
    for cl in clusters:
        for i, p in zip(cl, pos(cl)):
            out[i] = p
    return out


last_vals = [ser[-1][1] for ser in LINES]
label_pos = dodge(last_vals, 18 / (PLOT_H / Y_MAX))
label_df = pd.DataFrame({
    "party": PARTIES,
    "date": [TODAY_DATE] * len(PARTIES),
    "value": label_pos,
    "vtext": [f"{v} %" for v in LATEST],
    "lc": LABEL_COLORS,
})

x_scale = alt.Scale(type="utc", domain=[dt(START_DATE), dt(TODAY_DATE)])
y_scale = alt.Scale(domain=[0, Y_MAX], nice=False, zero=False)
color_scale = alt.Scale(domain=PARTIES, range=LINE_COLORS)

x_axis = alt.Axis(
    values=[dt(START_DATE)] + [dt(s) for s in TICK_DATES] + [dt(TODAY_DATE)],
    labelExpr="utcFormat(datum.value,'%d') != '01' ? '' : "
              "(utcFormat(datum.value,'%m') == '01' ? utcFormat(datum.value,'%Y') : utcFormat(datum.value,'%B'))",
    labelAngle=-45, labelAlign="right", labelBaseline="top", labelPadding=3,
    labelFontSize=10, labelColor="#111", labelFont=FONT, labelOverlap=False,
    tickSize=6, tickColor="#111", domainColor="#111", grid=False, title=None,
)
y_axis = alt.Axis(
    values=Y_TICKS + [Y_MAX],
    labelExpr="datum.value > 55 ? '' : datum.value + ' %'",
    labelFontSize=10, labelColor="#111", labelFont=FONT, labelPadding=3, labelOverlap=False,
    tickSize=6, tickColor="#111", domainColor="#111", grid=False, title=None,
)

# identical axis definition on every layer so the merged axes keep all settings
X = alt.X("date:T", scale=x_scale, axis=x_axis)
Y = alt.Y("value:Q", scale=y_scale, axis=y_axis)

layers = []

# event markers
for i, (name, d) in enumerate(zip(EVENT_NAMES, EVENT_DATES)):
    top = EVENT_TOP - EVENT_STEP * i
    base = alt.Chart(pd.DataFrame({"date": [d]}))
    layers.append(base.mark_rule(color="#cccccc", strokeWidth=2).encode(
        x=X, y=alt.value(top), y2=alt.value(PLOT_H)))
    layers.append(base.mark_rule(color="#cccccc", strokeWidth=2, xOffset=-7, x2Offset=7).encode(
        x=X, x2="date:T", y=alt.value(top)))
    if i == 0:
        layers.append(base.mark_text(align="left", baseline="alphabetic", fontSize=12.5,
                                     font=FONT, color="#555").encode(
            x=alt.value(5), y=alt.value(top - 3), text=alt.value(name)))
    else:
        layers.append(base.mark_text(align="center", baseline="alphabetic", fontSize=12.5,
                                     font=FONT, color="#555").encode(
            x=X, y=alt.value(top - 3), text=alt.value(name)))

# points
layers.append(alt.Chart(poll_df).mark_circle(size=20, opacity=0.3, clip=False).encode(
    x=X, y=Y, color=alt.Color("party:N", scale=color_scale, legend=None)))

# lines
layers.append(alt.Chart(line_df).mark_line(strokeWidth=2, clip=False).encode(
    x=X, y=Y, color=alt.Color("party:N", scale=color_scale, legend=None), detail="party:N"))

# today marker
td = alt.Chart(pd.DataFrame({"date": [TODAY_DATE]}))
layers.append(td.mark_rule(color="#333333", strokeWidth=1.5).encode(
    x=X, y=alt.value(-9), y2=alt.value(PLOT_H)))
layers.append(td.mark_rule(color="#777777", strokeWidth=2.5, xOffset=-15, x2Offset=15).encode(
    x=X, x2="date:T", y=alt.value(-9)))
layers.append(td.mark_text(align="center", baseline="alphabetic", fontSize=11.5, font=FONT,
                           color="#222").encode(
    x=X, y=alt.value(-13.5), text=alt.value(TODAY_LABEL)))

# end labels
lab = alt.Chart(label_df)
layers.append(lab.mark_text(align="right", baseline="middle", dx=-3, dy=-5, fontSize=16,
                            font=FONT, clip=False).encode(
    x=X, y=Y, text="party:N", color=alt.Color("lc:N", scale=None)))
layers.append(lab.mark_text(align="left", baseline="middle", dx=3, dy=-5, fontSize=16,
                            font=FONT, clip=False).encode(
    x=X, y=Y, text="vtext:N", color=alt.Color("lc:N", scale=None)))

chart = alt.layer(*layers).resolve_scale(color="independent").properties(
    width=PLOT_W, height=PLOT_H,
    autosize=alt.AutoSizeParams(type="none"),
    padding={"left": 32, "top": 22, "right": 40, "bottom": 42},
).configure_view(stroke=None)

chart.save("out.html", embed_options={"renderer": "svg", "actions": False})
